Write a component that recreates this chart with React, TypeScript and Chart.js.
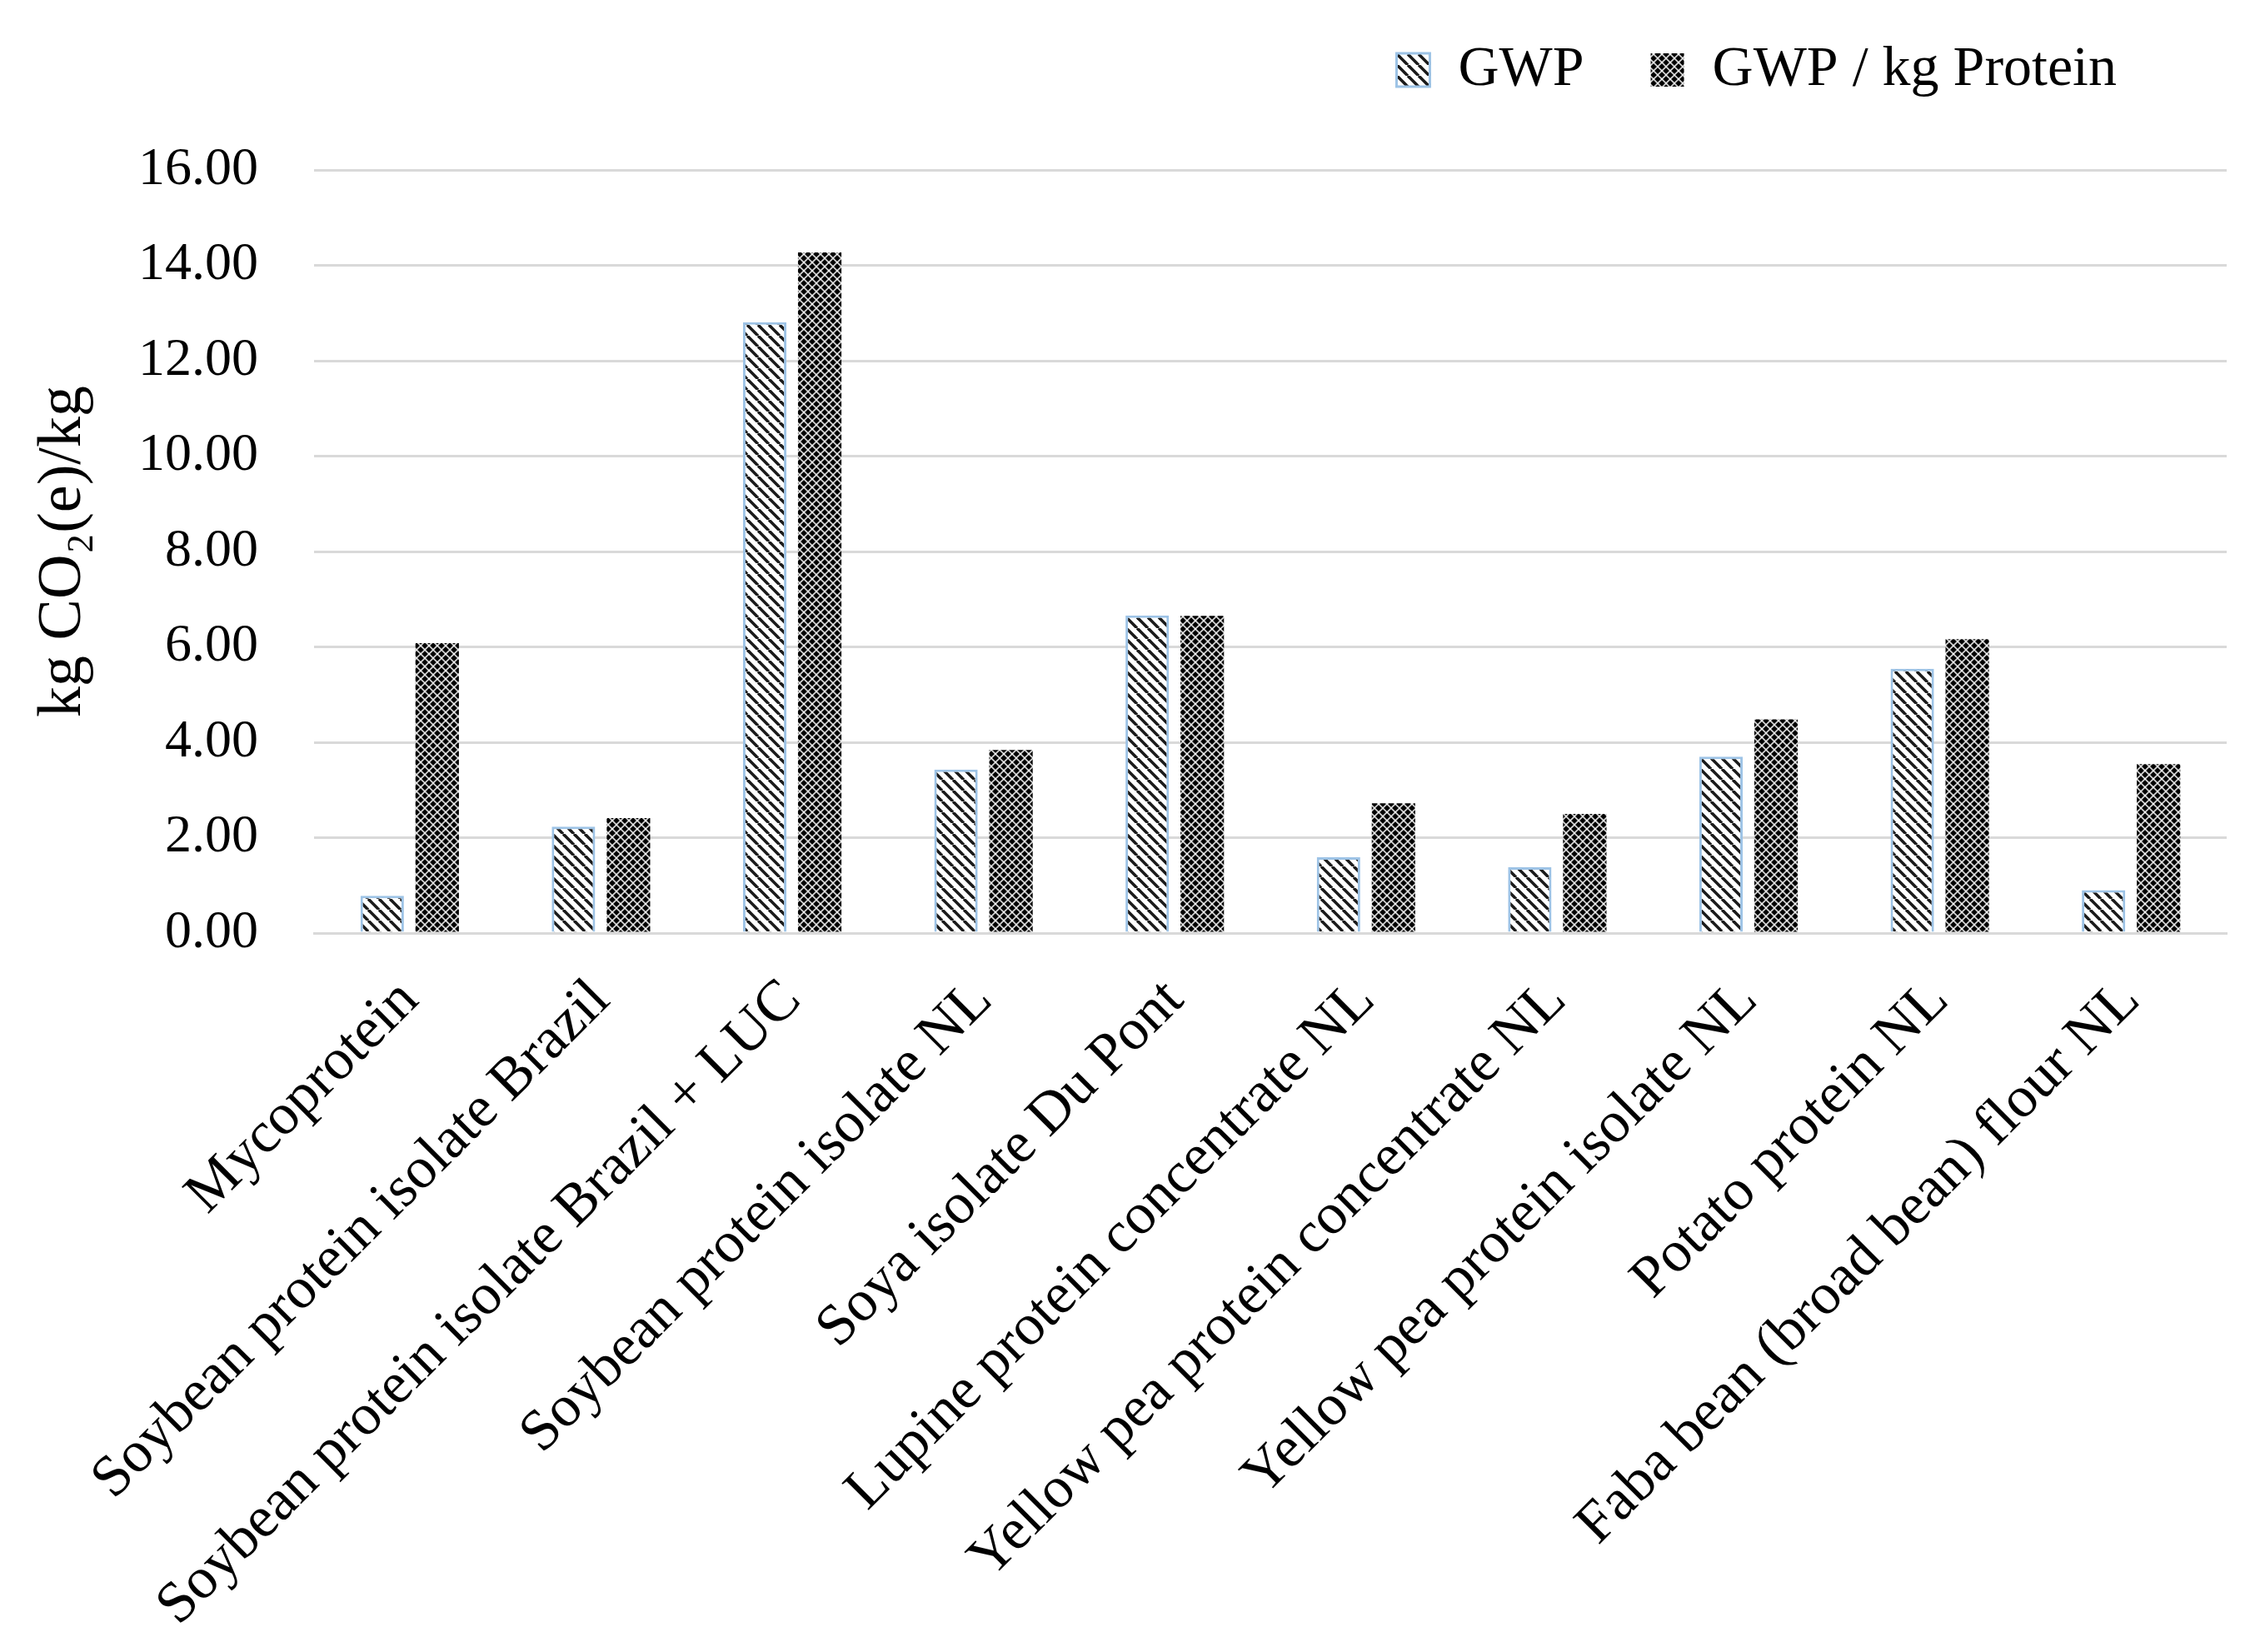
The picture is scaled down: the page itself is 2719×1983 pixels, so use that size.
import React, { useEffect, useRef } from 'react';
import { Chart, registerables } from 'chart.js';

Chart.register(...registerables);

const categories = [
  'Mycoprotein',
  'Soybean protein isolate Brazil',
  'Soybean protein isolate Brazil + LUC',
  'Soybean protein isolate NL',
  'Soya isolate Du Pont',
  'Lupine protein concentrate NL',
  'Yellow pea protein concentrate NL',
  'Yellow pea protein isolate NL',
  'Potato protein NL',
  'Faba bean (broad bean) flour NL',
];

const gwp = [0.78, 2.23, 12.81, 3.43, 6.66, 1.59, 1.38, 3.7, 5.54, 0.9];
const gwpPerProtein = [6.08, 2.41, 14.27, 3.84, 6.65, 2.72, 2.5, 4.48, 6.16, 3.54];

const seriesNames = ['GWP', 'GWP / kg Protein'];

const FONT = '"Liberation Serif", "Times New Roman", serif';

// white tile with "\" stripes
function hatchPattern(): CanvasPattern | string {
  const s = 13;
  const c = document.createElement('canvas');
  c.width = s;
  c.height = s;
  const g = c.getContext('2d');
  if (!g) return '#888';
  g.fillStyle = '#fff';
  g.fillRect(0, 0, s, s);
  g.strokeStyle = '#1a1a1a';
  g.lineWidth = 3.6;
  for (const x0 of [-s, 0, s]) {
    g.beginPath();
    g.moveTo(x0, 0);
    g.lineTo(x0 + s, s);
    g.stroke();
  }
  return g.createPattern(c, 'repeat') || '#888';
}

// black tile with a white diamond trellis
function trellisPattern(): CanvasPattern | string {
  const s = 10;
  const c = document.createElement('canvas');
  c.width = s;
  c.height = s;
  const g = c.getContext('2d');
  if (!g) return '#222';
  g.fillStyle = '#000';
  g.fillRect(0, 0, s, s);
  g.strokeStyle = 'rgba(255,255,255,0.85)';
  g.lineWidth = 1.6;
  for (const x0 of [-s, 0, s]) {
    g.beginPath();
    g.moveTo(x0, 0);
    g.lineTo(x0 + s, s);
    g.stroke();
    g.beginPath();
    g.moveTo(x0 + s, 0);
    g.lineTo(x0, s);
    g.stroke();
  }
  return g.createPattern(c, 'repeat') || '#222';
}

// nudge the legend up and left into the spot it has in the figure
const legendShift = {
  id: 'legendShift',
  afterLayout(chart: any) {
    const lg = chart.legend;
    if (!lg) return;
    lg.top -= 76;
    lg.bottom -= 76;
    lg.left -= 52;
    lg.right -= 52;
  },
};

const App: React.FC = () => {
  const chartRef = useRef<HTMLCanvasElement>(null);
  const chartInstance = useRef<Chart | null>(null);

  useEffect(() => {
    if (!chartRef.current) return;
    if (chartInstance.current) chartInstance.current.destroy();

    const ctx = chartRef.current.getContext('2d');
    if (!ctx) return;

    chartInstance.current = new Chart(ctx, {
      type: 'bar',
      data: {
        labels: categories,
        datasets: [
          {
            label: seriesNames[0],
            data: gwp,
            backgroundColor: hatchPattern(),
            borderColor: '#9dc3e6',
            borderWidth: 3,
            barPercentage: 0.79,
            categoryPercentage: 0.575,
          },
          {
            label: seriesNames[1],
            data: gwpPerProtein,
            backgroundColor: trellisPattern(),
            borderWidth: 0,
            barPercentage: 0.79,
            categoryPercentage: 0.575,
          },
        ],
      },
      options: {
        responsive: true,
        maintainAspectRatio: false,
        animation: false,
        layout: { padding: { top: 46, right: 46, left: 0, bottom: 0 } },
        plugins: {
          legend: {
            position: 'top',
            align: 'end',
            labels: {
              boxWidth: 40,
              boxHeight: 40,
              padding: 80,
              color: '#000',
              font: { family: FONT, size: 68 },
            },
          },
          tooltip: { enabled: false },
        },
        scales: {
          x: {
            grid: { display: false, drawTicks: false },
            border: { display: true, color: '#d9d9d9', width: 3 },
            ticks: {
              maxRotation: 45,
              minRotation: 45,
              autoSkip: false,
              padding: 40,
              color: '#000',
              font: { family: FONT, size: 70 },
            },
            afterFit(scale: any) {
              scale.height = 863;
            },
          },
          y: {
            min: 0,
            max: 16,
            grid: { color: '#d9d9d9', lineWidth: 3, drawTicks: false },
            border: { display: false },
            ticks: {
              stepSize: 2,
              padding: 67,
              color: '#000',
              font: { family: FONT, size: 64 },
              callback: (v: any) => Number(v).toFixed(2),
            },
            title: {
              display: true,
              text: 'kg CO₂(e)/kg',
              color: '#000',
              font: { family: FONT, size: 74 },
              padding: { top: 32, bottom: 0 },
            },
            afterFit(scale: any) {
              scale.width = 377;
            },
          },
        },
      },
      plugins: [legendShift],
    });

    return () => {
      if (chartInstance.current) {
        chartInstance.current.destroy();
        chartInstance.current = null;
      }
    };
  }, []);

  return (
    <div style={{ position: 'absolute', left: 0, top: 0, width: '2719px', height: '1983px', background: '#fff' }}>
      <canvas ref={chartRef} />
    </div>
  );
};

export default App;
